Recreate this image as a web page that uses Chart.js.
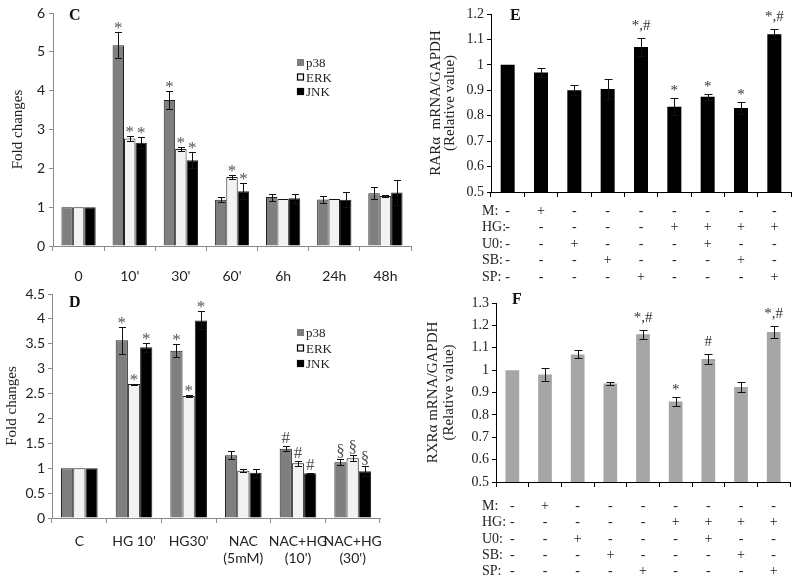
<!DOCTYPE html>
<html>
<head>
<meta charset="utf-8">
<script src="https://cdn.jsdelivr.net/npm/chart.js@4.4.1/dist/chart.umd.min.js"></script>
<style>
    body { margin: 0; background: #fff; width: 800px; height: 582px; position: relative; overflow: hidden; }
    .panel { position: absolute; }
</style>
</head>
<body>
<div class="panel" style="left:0;top:0;width:420px;height:290px"><canvas id="chartC"></canvas></div>
<div class="panel" style="left:0;top:280px;width:420px;height:302px"><canvas id="chartD"></canvas></div>
<div class="panel" style="left:400px;top:0;width:400px;height:290px"><canvas id="chartE"></canvas></div>
<div class="panel" style="left:400px;top:280px;width:400px;height:302px"><canvas id="chartF"></canvas></div>

<script>
// panel C - time course
const timeLabels = ['0', "10'", "30'", "60'", '6h', '24h', '48h'];
const cP38 = [1, 5.17, 3.76, 1.19, 1.26, 1.2, 1.36];
const cP38Err = [0, 0.33, 0.23, 0.06, 0.09, 0.08, 0.16];
const cErk = [1, 2.77, 2.5, 1.78, 1.21, 1.21, 1.29];
const cErkErr = [0, 0.06, 0.05, 0.05, 0.01, 0.01, 0.02];
const cJnk = [1, 2.66, 2.21, 1.41, 1.23, 1.19, 1.38];
const cJnkErr = [0, 0.14, 0.2, 0.21, 0.12, 0.19, 0.32];
const cP38Marks = ['', '*', '*', '', '', '', ''];
const cErkMarks = ['', '*', '*', '*', '', '', ''];
const cJnkMarks = ['', '*', '*', '*', '', '', ''];

// panel D - treatments
const treatLabels = ['C', "HG 10'", "HG30'", ['NAC', '(5mM)'], ['NAC+HG', "(10')"], ['NAC+HG', "(30')"]];
const dP38 = [1, 3.57, 3.36, 1.26, 1.39, 1.12];
const dP38Err = [0, 0.27, 0.13, 0.08, 0.05, 0.06];
const dErk = [1, 2.69, 2.45, 0.95, 1.1, 1.2];
const dErkErr = [0, 0.01, 0.02, 0.03, 0.05, 0.06];
const dJnk = [1, 3.43, 3.97, 0.91, 0.9, 0.94];
const dJnkErr = [0, 0.09, 0.18, 0.08, 0.01, 0.1];
const dP38Marks = ['', '*', '*', '', '#', '§'];
const dErkMarks = ['', '*', '*', '', '#', '§'];
const dJnkMarks = ['', '*', '*', '', '#', '§'];
const dTicks = [0, 0.5, 1, 1.5, 2, 2.5, 3, 3.5, 4, 4.5];

// panels E / F - inhibitor table
const rowNames = ['M:', 'HG:', 'U0:', 'SB:', 'SP:'];
const mRow = ['-', '+', '-', '-', '-', '-', '-', '-', '-'];
const hgRow = ['-', '-', '-', '-', '-', '+', '+', '+', '+'];
const u0Row = ['-', '-', '+', '-', '-', '-', '+', '-', '-'];
const sbRow = ['-', '-', '-', '+', '-', '-', '-', '+', '-'];
const spRow = ['-', '-', '-', '-', '+', '-', '-', '-', '+'];

const rarVals = [1.0, 0.97, 0.9, 0.905, 1.07, 0.835, 0.875, 0.83, 1.12];
const rarErr = [0, 0.018, 0.02, 0.04, 0.035, 0.033, 0.012, 0.022, 0.02];
const rarMarks = ['', '', '', '', '*,#', '*', '*', '*', '*,#'];

const rxrVals = [1.0, 0.98, 1.07, 0.94, 1.16, 0.86, 1.05, 0.925, 1.17];
const rxrErr = [0, 0.03, 0.018, 0.007, 0.02, 0.02, 0.024, 0.024, 0.026];
const rxrMarks = ['', '', '', '', '*,#', '*', '#', '', '*,#'];

const SANS = 'Lato, "Open Sans", sans-serif';
const SERIF = '"Liberation Serif", "DejaVu Serif", serif';

// one multi-line label per column: M, HG, U0, SB, SP
const tableColumns = mRow.map((_, i) => [mRow[i], hgRow[i], u0Row[i], sbRow[i], spRow[i]]);

const shortNum = v => String(+Number(v).toFixed(1));

// error bars + significance marks + panel letter + legend + table row names
const decorPlugin = {
    id: 'decor',
    afterDatasetsDraw(chart, args, opts) {
        const ctx = chart.ctx;
        const yScale = chart.scales.y;
        ctx.save();
        chart.data.datasets.forEach((ds, di) => {
            const meta = chart.getDatasetMeta(di);
            meta.data.forEach((bar, i) => {
                const v = ds.data[i];
                const e = ds.errors ? ds.errors[i] : 0;
                let top = bar.y;
                const x = Math.round(bar.x) + 0.5;
                if (e > 0) {
                    const yHi = Math.round(yScale.getPixelForValue(v + e)) + 0.5;
                    const yLo = Math.round(yScale.getPixelForValue(v - e)) + 0.5;
                    ctx.strokeStyle = '#111';
                    ctx.lineWidth = 1;
                    ctx.beginPath();
                    ctx.moveTo(x, yHi); ctx.lineTo(x, yLo);
                    ctx.moveTo(x - opts.cap, yHi); ctx.lineTo(x + opts.cap, yHi);
                    ctx.moveTo(x - opts.cap, yLo); ctx.lineTo(x + opts.cap, yLo);
                    ctx.stroke();
                    top = yHi;
                }
                const m = ds.marks ? ds.marks[i] : '';
                if (m) {
                    ctx.fillStyle = opts.markColor;
                    ctx.font = opts.markFont;
                    ctx.textAlign = 'center';
                    ctx.textBaseline = 'alphabetic';
                    const gap = m === '*' ? opts.starGap : opts.markGap;
                    ctx.fillText(m, bar.x, top - gap);
                }
            });
        });

        // panel letter
        ctx.fillStyle = '#111';
        ctx.font = 'bold 16px ' + SERIF;
        ctx.textAlign = 'left';
        ctx.textBaseline = 'middle';
        ctx.fillText(opts.letter, opts.letterX, opts.letterY);

        // y axis title (rotated)
        if (opts.yTitle) {
            const ca = chart.chartArea;
            ctx.save();
            ctx.translate(opts.yTitleX, (ca.top + ca.bottom) / 2);
            ctx.rotate(-Math.PI / 2);
            ctx.textAlign = 'center';
            ctx.textBaseline = 'middle';
            ctx.font = opts.yTitleFont;
            ctx.fillStyle = '#222';
            ctx.fillText(opts.yTitle, 0, 0);
            ctx.restore();
        }

        // legend
        if (opts.legendX !== undefined) {
            ctx.font = '13px ' + SERIF;
            ctx.textAlign = 'left';
            ctx.textBaseline = 'middle';
            chart.data.datasets.forEach((ds, di) => {
                const y = opts.legendY + di * opts.legendStep;
                ctx.fillStyle = ds.backgroundColor;
                ctx.fillRect(opts.legendX, y - 4, 7, 7);
                if (ds.backgroundColor !== '#7f7f7f') {
                    ctx.strokeStyle = '#000';
                    ctx.lineWidth = 1.2;
                    ctx.strokeRect(opts.legendX + 0.5, y - 3.5, 6, 6);
                }
                ctx.fillStyle = '#222';
                ctx.fillText(ds.label, opts.legendX + 9, y + 1);
            });
        }

        // row names of the treatment table
        if (opts.rows) {
            const xs = chart.scales.x;
            const lh = xs.options.ticks.font.size * xs.options.ticks.font.lineHeight;
            const y0 = chart.chartArea.bottom + xs.options.grid.tickLength + xs.options.ticks.padding;
            ctx.font = xs.options.ticks.font.size + 'px ' + SERIF;
            ctx.fillStyle = '#222';
            ctx.textAlign = 'left';
            ctx.textBaseline = 'middle';
            opts.rows.forEach((r, k) => {
                ctx.fillText(r, opts.rowX, y0 + lh * (k + 0.5));
            });
        }
        ctx.restore();
    }
};

function barOptions(o) {
    return {
        responsive: true,
        maintainAspectRatio: false,
        animation: false,
        layout: { padding: o.padding },
        plugins: {
            legend: { display: false },
            tooltip: { enabled: false },
            decor: o.decor
        },
        scales: {
            x: {
                grid: { display: true, drawOnChartArea: false, drawTicks: true, tickLength: 5, color: o.axisColor, offset: true },
                border: { display: true, color: o.axisColor, width: 1 },
                ticks: o.xTicks,
                afterFit: s => { s.height = o.xHeight; }
            },
            y: {
                min: o.yMin,
                max: o.yMax,
                grid: { drawOnChartArea: false, drawTicks: true, tickLength: 4, color: o.axisColor },
                border: { display: true, color: o.axisColor, width: 1 },
                ticks: o.yTicks,
                afterBuildTicks: o.yTickValues ? (s => { s.ticks = o.yTickValues.map(v => ({ value: v })); }) : undefined,
                title: o.yTitle || { display: false },
                afterFit: s => { s.width = o.yWidth; }
            }
        }
    };
}

function groupedDatasets(vals, errs, marks) {
    const labels = ['p38', 'ERK', 'JNK'];
    const colors = ['#7f7f7f', '#f2f2f2', '#000000'];
    return vals.map((v, k) => ({
        label: labels[k],
        data: v,
        errors: errs[k],
        marks: marks[k],
        backgroundColor: colors[k],
        borderColor: '#222',
        borderWidth: 1,
        categoryPercentage: 0.67,
        barPercentage: 1.0
    }));
}

// ---- panel C
new Chart(document.getElementById('chartC'), {
    type: 'bar',
    data: {
        labels: timeLabels,
        datasets: groupedDatasets([cP38, cErk, cJnk], [cP38Err, cErkErr, cJnkErr], [cP38Marks, cErkMarks, cJnkMarks])
    },
    options: barOptions({
        padding: { left: 0, right: 9, top: 13, bottom: 0 },
        axisColor: '#8a8a8a',
        xHeight: 44,
        yWidth: 53,
        yMin: 0, yMax: 6,
        xTicks: { color: '#222', font: { family: SANS, size: 14, lineHeight: 1.2 }, padding: 17, maxRotation: 0, autoSkip: false },
        yTicks: { color: '#222', font: { family: SANS, size: 14 }, padding: 4, stepSize: 1, autoSkip: false },
        decor: { cap: 3.5, starGap: 0, markGap: 3, markColor: '#555', markFont: '17px ' + SERIF,
                 letter: 'C', letterX: 69, letterY: 16,
                 yTitle: 'Fold changes', yTitleX: 18, yTitleFont: '15px ' + SERIF,
                 legendX: 297, legendY: 63, legendStep: 14.5 }
    }),
    plugins: [decorPlugin]
});

// ---- panel D
new Chart(document.getElementById('chartD'), {
    type: 'bar',
    data: {
        labels: treatLabels,
        datasets: groupedDatasets([dP38, dErk, dJnk], [dP38Err, dErkErr, dJnkErr], [dP38Marks, dErkMarks, dJnkMarks])
    },
    options: barOptions({
        padding: { left: 0, right: 40, top: 14, bottom: 0 },
        axisColor: '#8a8a8a',
        xHeight: 64,
        yWidth: 52,
        yMin: 0, yMax: 4.5,
        yTickValues: dTicks,
        xTicks: { color: '#222', font: { family: SANS, size: 14, lineHeight: 1.2 }, padding: 10, maxRotation: 0, autoSkip: false },
        yTicks: { color: '#222', font: { family: SANS, size: 14 }, padding: 3, autoSkip: false, callback: shortNum },
        decor: { cap: 3.5, starGap: 0, markGap: 4, markColor: '#555', markFont: '17px ' + SERIF,
                 letter: 'D', letterX: 69, letterY: 23,
                 yTitle: 'Fold changes', yTitleX: 12, yTitleFont: '15px ' + SERIF,
                 legendX: 297, legendY: 53, legendStep: 15.5 }
    }),
    plugins: [decorPlugin]
});

// ---- panels E and F
function singleDataset(label, vals, errs, marks, color) {
    return [{
        label: label,
        data: vals,
        errors: errs,
        marks: marks,
        backgroundColor: color,
        borderWidth: 0,
        categoryPercentage: 0.42,
        barPercentage: 1.0
    }];
}

new Chart(document.getElementById('chartE'), {
    type: 'bar',
    data: { labels: tableColumns, datasets: singleDataset('RARα', rarVals, rarErr, rarMarks, '#000000') },
    options: barOptions({
        padding: { left: 0, right: 9, top: 14, bottom: 0 },
        axisColor: '#000',
        xHeight: 98,
        yWidth: 91,
        yMin: 0.5, yMax: 1.2,
        xTicks: { color: '#222', font: { family: SERIF, size: 14, lineHeight: 1.18 }, padding: 6, maxRotation: 0, autoSkip: false },
        yTicks: { color: '#222', font: { family: SERIF, size: 14 }, padding: 3, stepSize: 0.1, autoSkip: false, callback: shortNum },
        yTitle: { display: true, text: ['RARα  mRNA/GAPDH', '(Relative value)'], color: '#222', font: { family: SERIF, size: 15, lineHeight: 0.95 }, padding: { top: 29 } },
        decor: { cap: 4, starGap: 4, markGap: 9, markColor: '#333', markFont: '15px ' + SERIF,
                 letter: 'E', letterX: 110, letterY: 16,
                 rows: rowNames, rowX: 82 }
    }),
    plugins: [decorPlugin]
});

new Chart(document.getElementById('chartF'), {
    type: 'bar',
    data: { labels: tableColumns, datasets: singleDataset('RXRα', rxrVals, rxrErr, rxrMarks, '#a6a6a6') },
    options: barOptions({
        padding: { left: 0, right: 10, top: 23, bottom: 0 },
        axisColor: '#000',
        xHeight: 100,
        yWidth: 96,
        yMin: 0.5, yMax: 1.3,
        xTicks: { color: '#222', font: { family: SERIF, size: 14, lineHeight: 1.17 }, padding: 11, maxRotation: 0, autoSkip: false },
        yTicks: { color: '#222', font: { family: SERIF, size: 14 }, padding: 3, stepSize: 0.1, autoSkip: false, callback: shortNum },
        yTitle: { display: true, text: ['RXRα mRNA/GAPDH', '(Relative value)'], color: '#222', font: { family: SERIF, size: 15, lineHeight: 1.05 }, padding: { top: 25 } },
        decor: { cap: 4, starGap: 4, markGap: 9, markColor: '#333', markFont: '15px ' + SERIF,
                 letter: 'F', letterX: 112, letterY: 20,
                 rows: rowNames, rowX: 82 }
    }),
    plugins: [decorPlugin]
});
</script>
</body>
</html>
